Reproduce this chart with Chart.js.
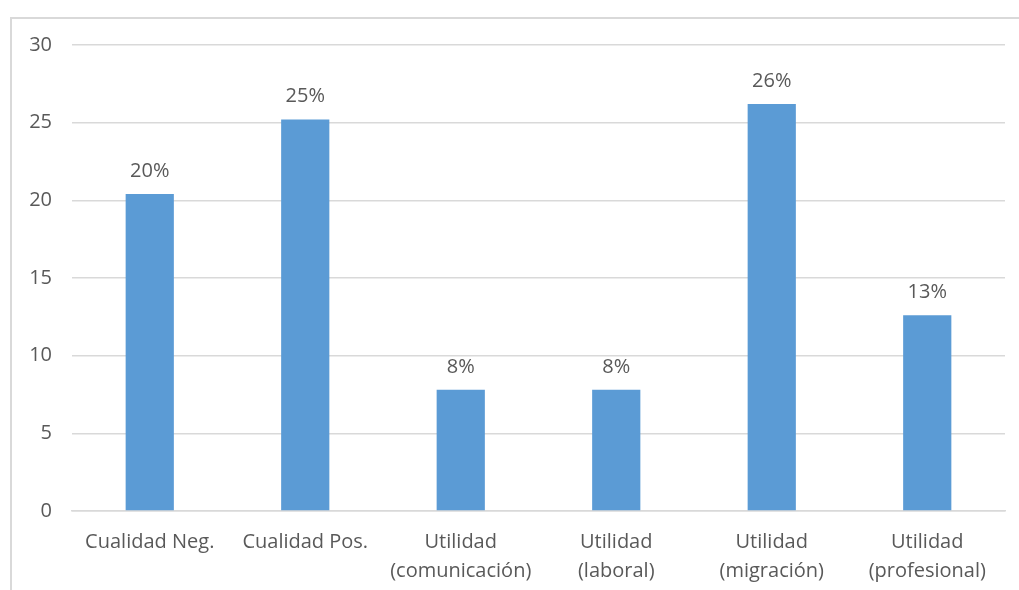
<!DOCTYPE html>
<html>
<head>
<meta charset="utf-8">
<script src="https://cdn.jsdelivr.net/npm/chart.js@4.4.1/dist/chart.umd.min.js"></script>
<style>
  html, body { margin: 0; padding: 0; background: #fff; }
  #wrap { position: relative; width: 1019px; height: 590px; overflow: hidden; }
  #frame {
    position: absolute; left: 10px; top: 17px; width: 1100px; height: 700px;
    border-left: 2px solid #d9d9d9; border-top: 2px solid #d9d9d9; box-sizing: border-box;
  }
  #chart { position: absolute; left: 0; top: 0; }
</style>
</head>
<body>
<div id="wrap">
  <div id="frame"></div>
  <canvas id="chart" width="1019" height="590"></canvas>
</div>
<script>
  // Categories (two-line labels) and values in percent
  const categories = [
    ['Cualidad Neg.'],
    ['Cualidad Pos.'],
    ['Utilidad', '(comunicación)'],
    ['Utilidad', '(laboral)'],
    ['Utilidad', '(migración)'],
    ['Utilidad', '(profesional)']
  ];
  const values = [20.4, 25.2, 7.8, 7.8, 26.2, 12.6];
  const yTicks = [0, 5, 10, 15, 20, 25, 30];

  const BAR = '#5b9bd5';
  const TEXT = '#595959';
  const GRID = '#d9d9d9';
  const FONT = '"Open Sans", Lato, sans-serif';
  const SIZE = 20;

  // draws the rounded percentage above each bar
  const valueLabels = {
    id: 'valueLabels',
    afterDatasetsDraw(chart) {
      const ctx = chart.ctx;
      const meta = chart.getDatasetMeta(0);
      ctx.save();
      ctx.fillStyle = TEXT;
      ctx.font = SIZE + 'px ' + FONT;
      ctx.textAlign = 'center';
      ctx.textBaseline = 'middle';
      meta.data.forEach((bar, i) => {
        ctx.fillText(Math.round(values[i]) + '%', bar.x, bar.y - 23);
      });
      ctx.restore();
    }
  };

  new Chart(document.getElementById('chart'), {
    type: 'bar',
    data: {
      labels: categories,
      datasets: [{
        data: values,
        backgroundColor: BAR,
        categoryPercentage: 1,
        barPercentage: 0.31
      }]
    },
    options: {
      responsive: false,
      animation: false,
      layout: { padding: { top: 45, right: 14, left: 0, bottom: 0 } },
      plugins: { legend: { display: false }, tooltip: { enabled: false } },
      scales: {
        y: {
          min: 0,
          max: 30,
          afterBuildTicks: s => { s.ticks = yTicks.map(v => ({ value: v })); },
          afterFit: s => { s.width = 72; },
          ticks: { color: TEXT, font: { family: FONT, size: SIZE }, padding: 20 },
          grid: { color: GRID, lineWidth: 1.5, drawTicks: false },
          border: { display: false }
        },
        x: {
          afterFit: s => { s.height = 79; },
          ticks: { color: TEXT, font: { family: FONT, size: SIZE, lineHeight: 1.45 }, padding: 17, maxRotation: 0 },
          grid: { display: false, drawTicks: false },
          border: { color: GRID, width: 1.5 }
        }
      }
    },
    plugins: [valueLabels]
  });
</script>
</body>
</html>
